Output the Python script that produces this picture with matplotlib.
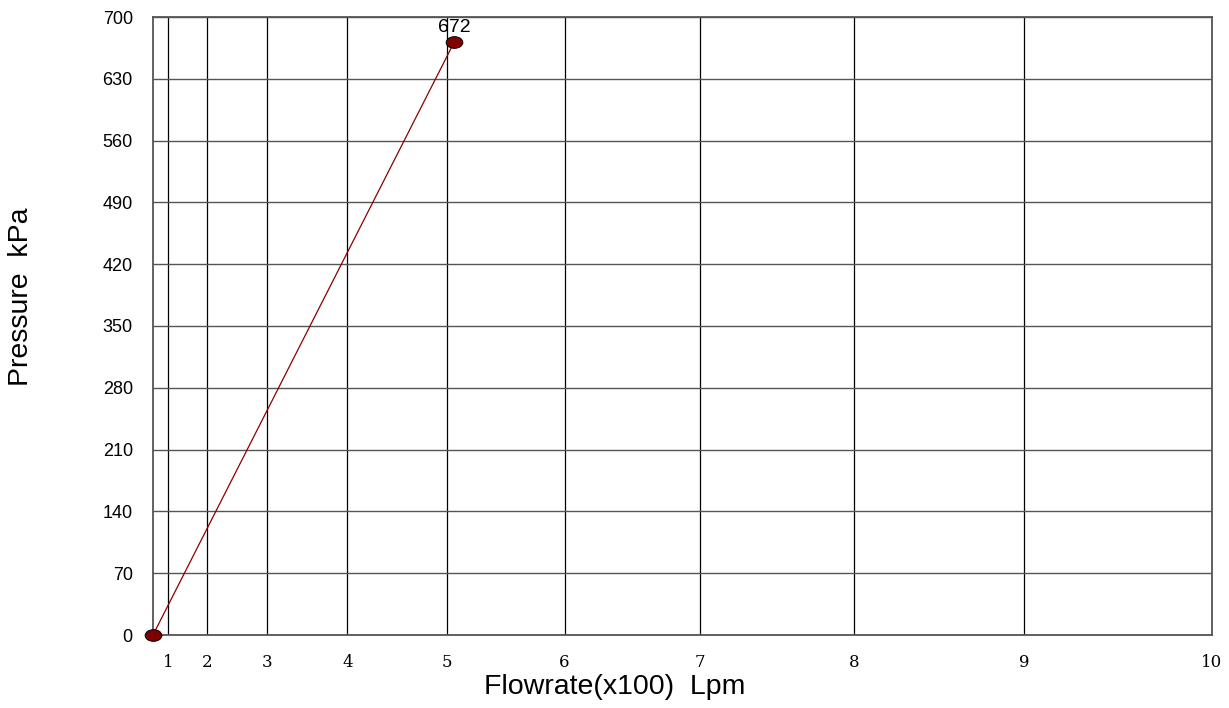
import numpy as np
import matplotlib.pyplot as plt
from matplotlib.path import Path
from matplotlib.transforms import Affine2D

# Flow test data (flow in x100 Lpm, pressure in kPa)
flow = [0.0, 5.07]
pressure = [0, 672]
x_ticks = [1, 2, 3, 4, 5, 6, 7, 8, 9, 10]
y_ticks = [0, 70, 140, 210, 280, 350, 420, 490, 560, 630, 700]

# N^1.85 hydraulic graph scale for flow axis
def fwd(q):
    q = np.asarray(q, dtype=float)
    return np.sign(q) * np.abs(q) ** 1.85

def inv(v):
    v = np.asarray(v, dtype=float)
    return np.sign(v) * np.abs(v) ** (1 / 1.85)

W, H = 1229, 708
fig = plt.figure(figsize=(W / 100, H / 100), dpi=100)
ax = fig.add_axes([153 / W, 1 - 635 / H, (1212 - 153) / W, (635 - 17) / H])
ax.set_xscale('function', functions=(fwd, inv))
ax.set_xlim(0, 10)
ax.set_ylim(0, 700)

# grid
for q in x_ticks:
    ax.axvline(q, color='black', lw=0.9, zorder=1)
for p in y_ticks:
    ax.axhline(p, color='#555555', lw=1.0, zorder=1)

for side in ['top', 'right', 'bottom', 'left']:
    ax.spines[side].set_color('#555555')
    ax.spines[side].set_linewidth(1.3)

ellipse = Path.unit_circle().transformed(Affine2D().scale(1.0, 0.7))
ax.plot(flow, pressure, color='#8b0000', lw=0.9, zorder=3, clip_on=False)
ax.plot(flow, pressure, ls='none', marker=ellipse, markersize=12,
        markerfacecolor='#800000', markeredgecolor='black', markeredgewidth=0.7,
        zorder=4, clip_on=False)
ax.annotate(str(pressure[1]), (flow[1], pressure[1]), xytext=(0, 4),
            textcoords='offset points', ha='center', va='bottom',
            fontsize=14, family='Liberation Sans')

ax.set_xticks(x_ticks)
ax.set_xticklabels([str(t) for t in x_ticks], family='DejaVu Serif', fontsize=12)
ax.set_yticks(y_ticks)
ax.set_yticklabels([str(t) for t in y_ticks], family='Liberation Sans', fontsize=13)
ax.tick_params(axis='x', length=0, pad=14)
ax.tick_params(axis='y', length=0, pad=14.5)
ax.minorticks_off()

fig.text(615 / W, 1 - 687 / H, 'Flowrate(x100)  Lpm', family='Liberation Sans',
         fontsize=20.5, ha='center', va='center')
fig.text(21 / W, 1 - 297 / H, 'Pressure  kPa', family='Liberation Sans',
         fontsize=20.5, ha='center', va='center', rotation=90)

fig.savefig('out.png', dpi=100)
